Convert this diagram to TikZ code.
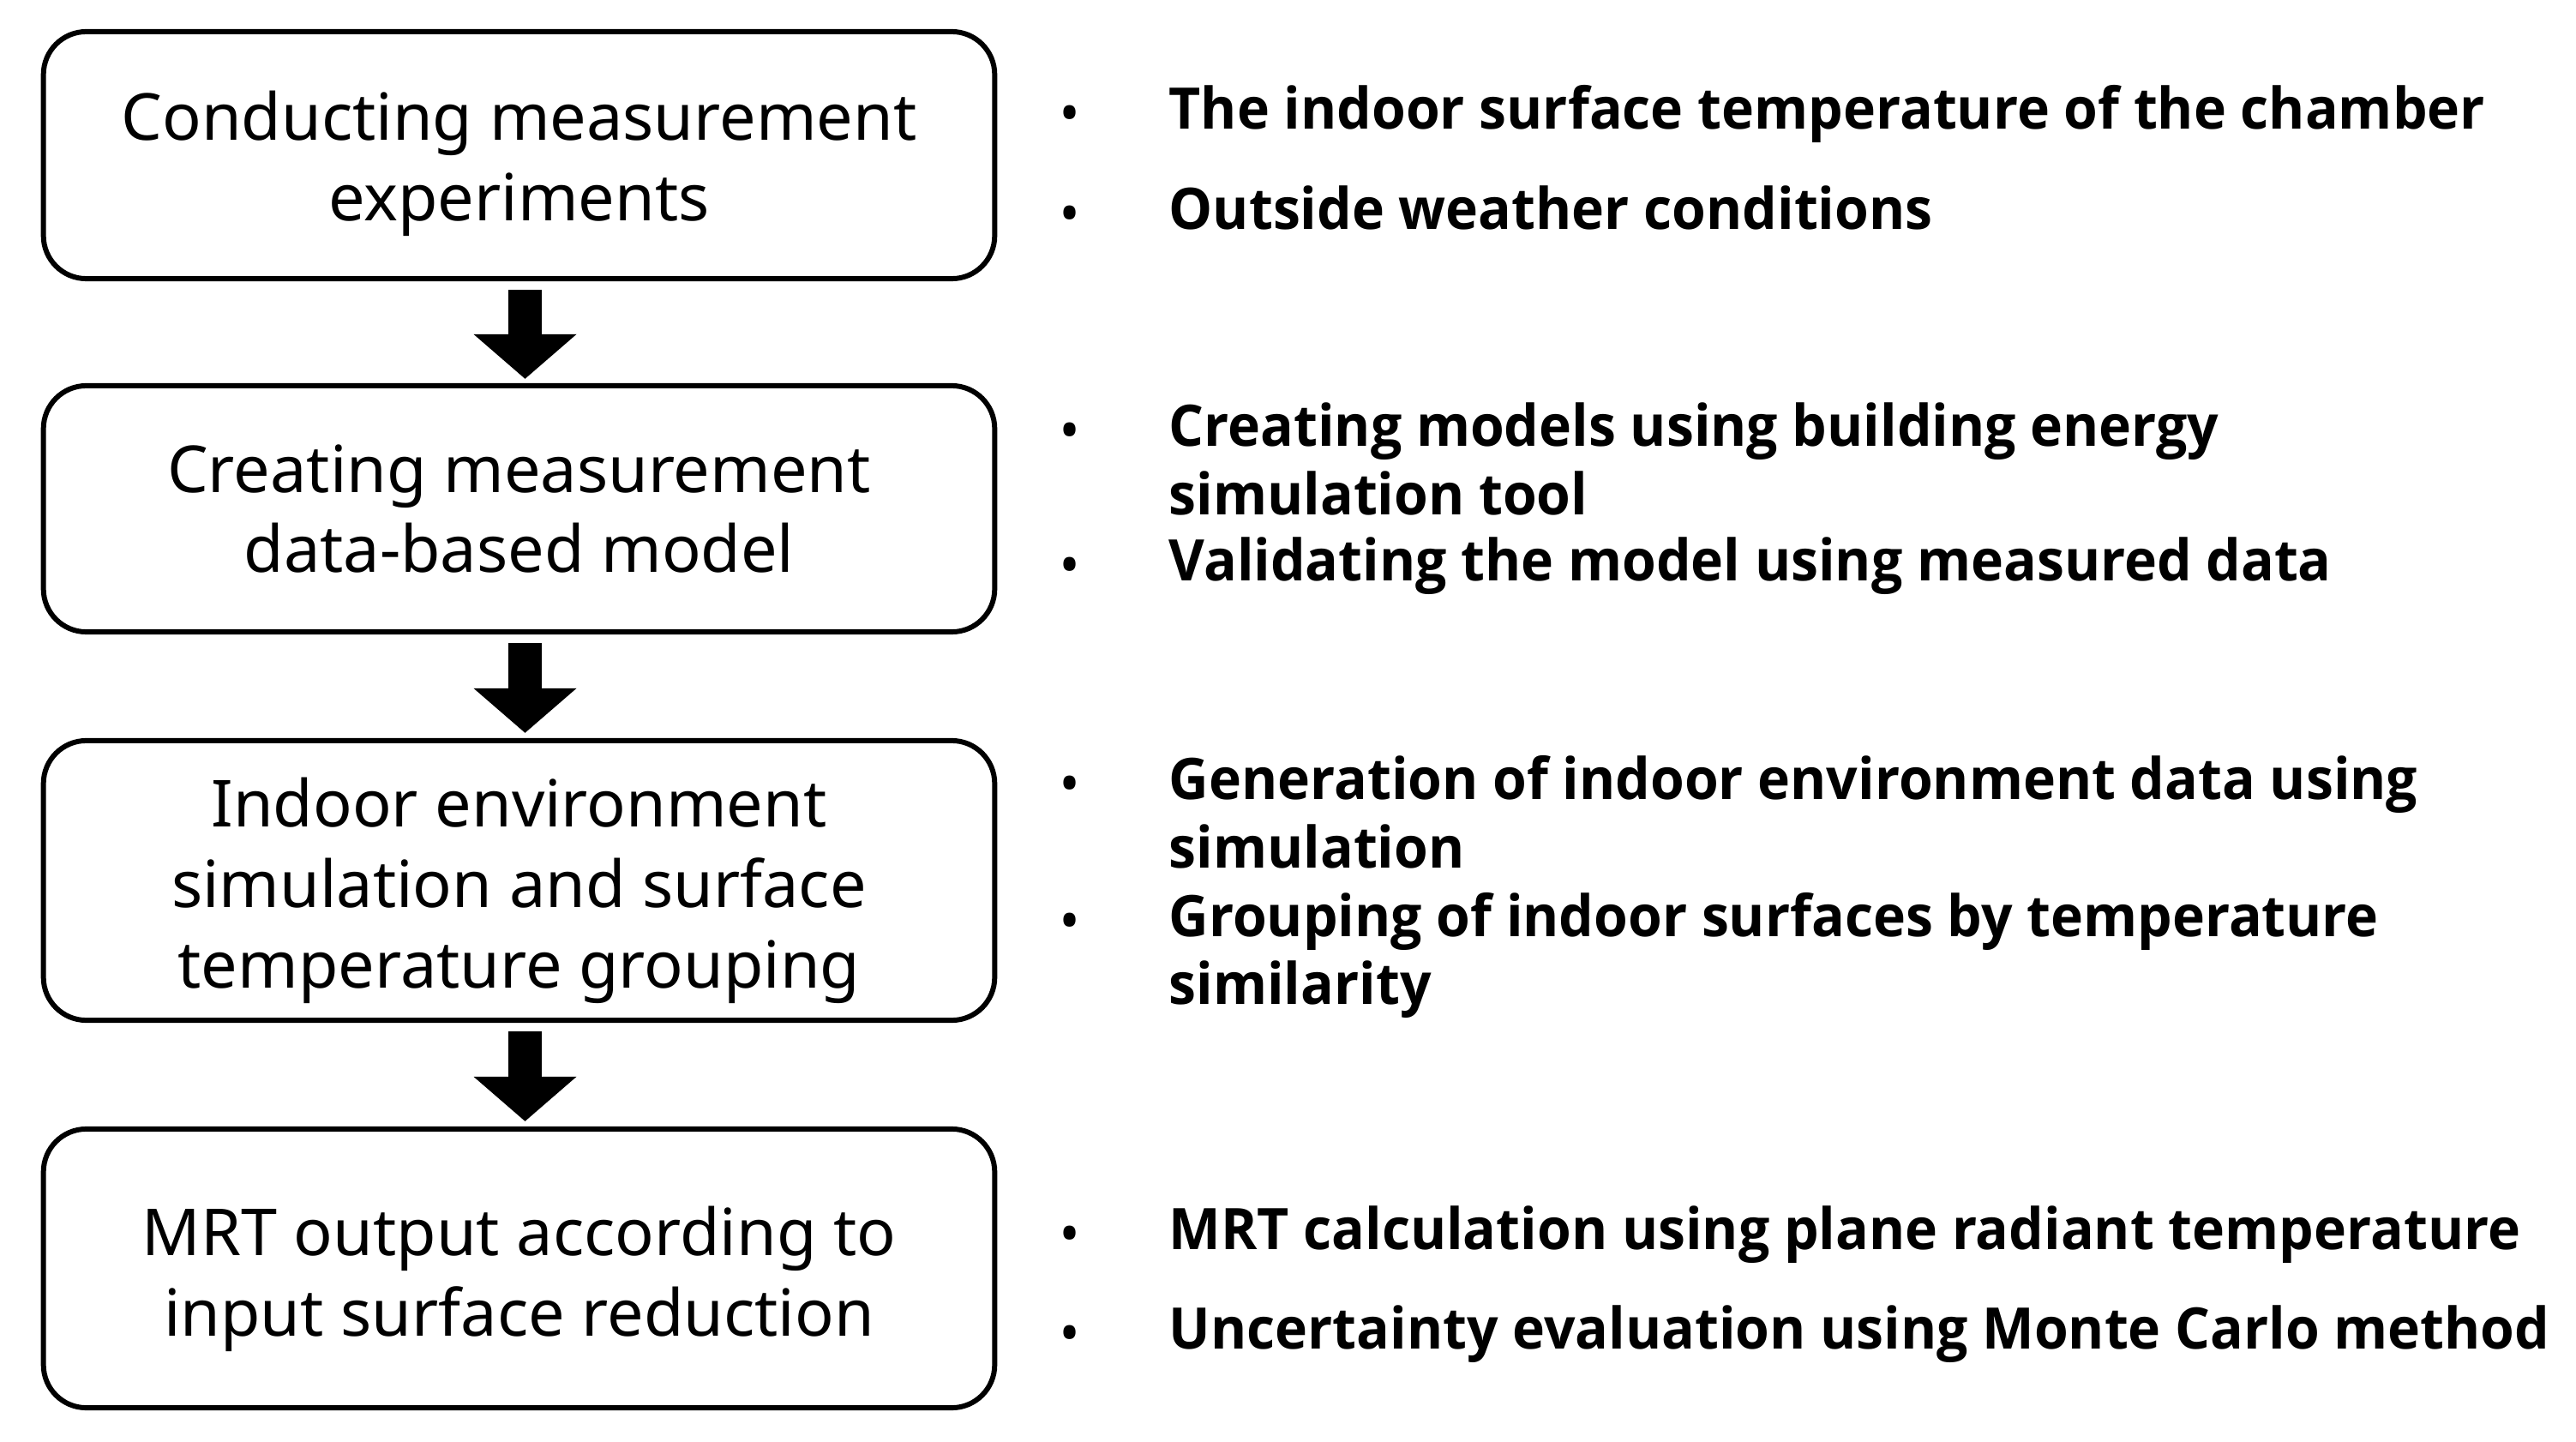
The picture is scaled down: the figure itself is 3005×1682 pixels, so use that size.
\documentclass[tikz,border=0pt]{standalone}
\usepackage{fontspec}
\setmainfont{Noto Sans}
\newfontfamily\rfont{Open Sans}[FakeStretch=0.962]
\usetikzlibrary{arrows.meta,calc}
\tikzset{
  stepbox/.style={draw, line width=1.7pt, rounded corners=0.5cm, minimum width=11.09cm,
    align=center, inner sep=0pt, font=\fontsize{21.5}{26.7}\selectfont},
  bigarrow/.style={line width=0.38cm, -{Triangle[width=1.17cm,length=0.52cm]}},
  itemtext/.style={anchor=base west, inner sep=0pt, font=\rfont\bfseries\fontsize{19}{22.8}\selectfont},
  bul/.style={anchor=base, inner sep=0pt, font=\rfont\bfseries\fontsize{15}{17}\selectfont}
}
\begin{document}
\begin{tikzpicture}[x=0.01cm, y=-0.01cm]
\useasboundingbox (0,0) rectangle (3005,1682);
\node[stepbox, minimum height=2.88cm] (b1) at (605.5,181) {\rule{0pt}{21.8pt}Conducting measurement\\experiments};
\node[stepbox, minimum height=2.87cm] (b2) at (605.5,593.5) {Creating measurement\\data-based model};
\node[stepbox, minimum height=3.26cm] (b3) at (605.5,1027) {\rule{0pt}{22.9pt}Indoor environment\\simulation and surface\\temperature grouping};
\node[stepbox, minimum height=3.25cm] (b4) at (605.5,1479.5) {\rule{0pt}{23.4pt}MRT output according to\\input surface reduction};

\draw[bigarrow] ($(b1.south)+(7,10)$) -- ($(b2.north)+(7,-5)$);
\draw[bigarrow] ($(b2.south)+(7,10)$) -- ($(b3.north)+(7,-6)$);
\draw[bigarrow] ($(b3.south)+(7,10)$) -- ($(b4.north)+(7,-6)$);

\node[bul] (u1) at (1248,151) {•};
\node[itemtext] (t1) at (1363,151) {The indoor surface temperature of the chamber};
\node[bul] (u2) at (1248,268) {•};
\node[itemtext] (t2) at (1363,268) {Outside weather conditions};

\node[bul] (u3) at (1248,520) {•};
\node[itemtext] (t3) at (1363,520) {Creating models using building energy};
\node[itemtext] (t3b) at (1363,600) {simulation tool};
\node[bul] (u4) at (1248,677) {•};
\node[itemtext] (t4) at (1363,677) {Validating the model using measured data};

\node[bul] (u5) at (1248,932) {•};
\node[itemtext] (t5) at (1363,932) {Generation of indoor environment data using};
\node[itemtext] (t5b) at (1363,1012) {simulation};
\node[bul] (u6) at (1248,1092) {•};
\node[itemtext] (t6) at (1363,1092) {Grouping of indoor surfaces by temperature};
\node[itemtext] (t6b) at (1363,1171) {similarity};

\node[bul] (u7) at (1248,1457) {•};
\node[itemtext] (t7) at (1363,1457) {MRT calculation using plane radiant temperature};
\node[bul] (u8) at (1248,1573) {•};
\node[itemtext] (t8) at (1363,1573) {Uncertainty evaluation using Monte Carlo method};
\end{tikzpicture}
\end{document}
